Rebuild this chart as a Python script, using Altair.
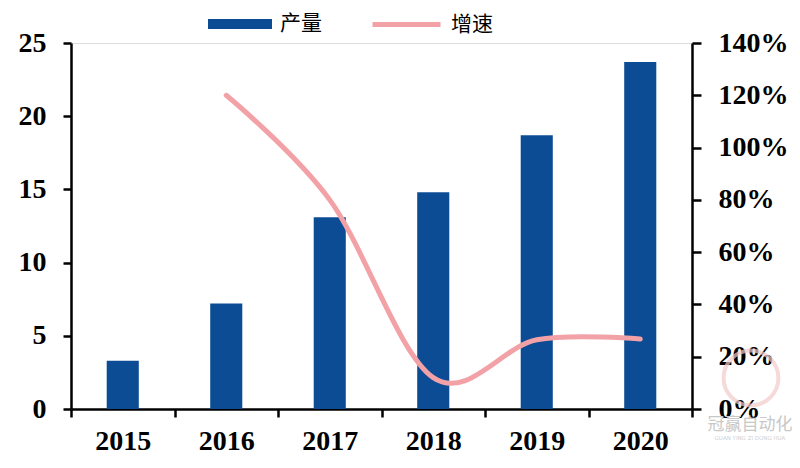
import altair as alt
import pandas as pd

years = ["2015", "2016", "2017", "2018", "2019", "2020"]
output = [3.3, 7.2, 13.1, 14.8, 18.7, 23.7]
growth = [None, 1.20, 0.80, 0.12, 0.265, 0.268]
bar_name = "产量"
line_name = "增速"
left_ticks = [0, 5, 10, 15, 20, 25]
right_ticks = [0, 0.2, 0.4, 0.6, 0.8, 1.0, 1.2, 1.4]

BAR_COLOR = "#0C4C94"
LINE_COLOR = "#F2A2A6"
NUM_FONT = "Liberation Serif"
CJK_FONT = "Noto Sans CJK SC"

df = pd.DataFrame({"year": years, "output": output, "growth": growth})
df["s1"] = bar_name
df["s2"] = line_name
line_df = df.dropna(subset=["growth"])

x_enc = alt.X(
    "year:O",
    scale=alt.Scale(paddingInner=0, paddingOuter=0),
    axis=alt.Axis(
        title=None, labelAngle=0, tickBand="extent", tickSize=8, labelPadding=10,
        labelFont=NUM_FONT, labelFontWeight="bold", labelFontSize=28, labelColor="black",
        domainColor="black", domainWidth=2.5, tickColor="black", tickWidth=2.5, grid=False,
    ),
)

bars = alt.Chart(df).mark_bar(width=alt.RelativeBandSize(0.31)).encode(
    x=x_enc,
    y=alt.Y(
        "output:Q",
        scale=alt.Scale(domain=[0, 25], nice=False),
        axis=alt.Axis(
            title=None, orient="left", values=left_ticks, tickSize=8, labelPadding=17,
            labelFont=NUM_FONT, labelFontWeight="bold", labelFontSize=28, labelColor="black",
            domainColor="black", domainWidth=2.5, tickColor="black", tickWidth=2.5, grid=False,
        ),
    ),
    fill=alt.Fill(
        "s1:N",
        scale=alt.Scale(domain=[bar_name], range=[BAR_COLOR]),
        legend=alt.Legend(
            title=None, orient="none", legendX=137, legendY=-51,
            symbolType="M-1,-0.16L1,-0.16L1,0.16L-1,0.16Z", symbolSize=4096,
            symbolStrokeWidth=0, labelFont=CJK_FONT, labelFontSize=21, labelColor="black",
            labelOffset=8, padding=0, labelLimit=300,
        ),
    ),
)

line = alt.Chart(line_df).mark_line(
    interpolate="cardinal", strokeWidth=5, strokeCap="round"
).encode(
    x=alt.X("year:O"),
    y=alt.Y(
        "growth:Q",
        scale=alt.Scale(domain=[0, 1.4], nice=False),
        axis=alt.Axis(
            title=None, orient="right", values=right_ticks, format=".0%", tickSize=9, labelPadding=17,
            labelFont=NUM_FONT, labelFontWeight="bold", labelFontSize=28, labelColor="black",
            domainColor="black", domainWidth=2.5, tickColor="black", tickWidth=2.5, grid=False,
        ),
    ),
    stroke=alt.Stroke(
        "s2:N",
        scale=alt.Scale(domain=[line_name], range=[LINE_COLOR]),
        legend=alt.Legend(
            title=None, orient="none", legendX=299, legendY=-55,
            symbolType="stroke", symbolSize=4624, symbolStrokeWidth=5,
            labelFont=CJK_FONT, labelFontSize=21, labelColor="black",
            labelOffset=8, padding=0, labelLimit=300,
        ),
    ),
)

wm_df = pd.DataFrame({"t": ["冠赢自动化"], "s": ["GUAN YING ZI DONG HUA"]})
wm_circle = alt.Chart(wm_df).mark_point(
    shape="circle", size=3000, filled=False, stroke="#F3CACA", strokeWidth=4, clip=False
).encode(x=alt.value(680), y=alt.value(335))
wm_text = alt.Chart(wm_df).mark_text(
    font=CJK_FONT, fontSize=17, color="#C8C8C8", clip=False
).encode(x=alt.value(679), y=alt.value(382), text="t:N")
wm_small = alt.Chart(wm_df).mark_text(
    font="DejaVu Sans", fontSize=5.5, color="#D0D0D0", clip=False
).encode(x=alt.value(679), y=alt.value(395), text="s:N")

chart = alt.layer(bars, line, wm_circle, wm_text, wm_small).resolve_scale(
    y="independent", fill="independent", stroke="independent"
).properties(
    width=621, height=366,
    autosize=alt.AutoSizeParams(type="none"),
    padding={"left": 63, "top": 35, "right": 100, "bottom": 50},
).configure_view(stroke=None).configure(background="white")

chart.save("out.html", embed_options={"renderer": "svg", "actions": False})
